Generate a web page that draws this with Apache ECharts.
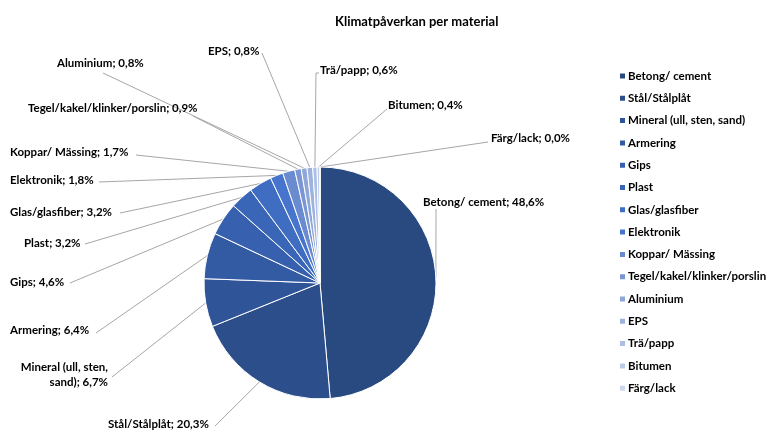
<!DOCTYPE html>
<html>
<head>
<meta charset="utf-8">
<script src="https://cdn.jsdelivr.net/npm/echarts@6/dist/echarts.min.js"></script>
<style>html,body{margin:0;padding:0;background:#fff}#c{width:779px;height:433px}</style>
</head>
<body>
<div id="c"></div>
<script>
const categories = ['Betong/ cement','Stål/Stålplåt','Mineral (ull, sten, sand)','Armering','Gips','Plast','Glas/glasfiber','Elektronik','Koppar/ Mässing','Tegel/kakel/klinker/porslin','Aluminium','EPS','Trä/papp','Bitumen','Färg/lack'];
const values = [48.6, 20.3, 6.7, 6.4, 4.6, 3.2, 3.2, 1.8, 1.7, 0.9, 0.8, 0.8, 0.6, 0.4, 0.0];
const labelNames = ['Betong/ cement','Stål/Stålplåt','Mineral (ull, sten,\nsand)','Armering','Gips','Plast','Glas/glasfiber','Elektronik','Koppar/ Mässing','Tegel/kakel/klinker/porslin','Aluminium','EPS','Trä/papp','Bitumen','Färg/lack'];
const colors = ['#284a80','#2c4f8c','#2f5598','#335ba4','#3761ae','#3a66b8','#3f6dc1','#4774cc','#6a8bcf','#7b97d3','#8ea6d9','#9db3de','#adbfe4','#bccbea','#ccd7ef'];

// label placement (text anchor x, y, align) and leader end points
const labelPos = [[423,202,'left'],[108,424,'left'],[108,375,'right'],[10,330,'left'],[10,282,'left'],[24,243,'left'],[10,212,'left'],[10,180,'left'],[10,152,'left'],[28,108,'left'],[57,63,'left'],[208,51,'left'],[320,70,'left'],[388,105,'left'],[491,138,'left']];
const lineEnds = [[[436,209],[436,209]],[[215,426],[215,426]],[[112,377],[112,377]],[[96,333],[96,333]],[[70,283],[70,283]],[[85,244],[85,244]],[[120,213],[120,213]],[[99,182],[99,182]],[[136,155],[136,155]],[[193,116],[193,116]],[[103,73],[103,73]],[[262,53],[262,53]],[[316,73],[319,73]],[[387,109],[387,109]],[[488,142],[488,142]]];

const fmt = v => v.toFixed(1).replace('.', ',') + '%';
const chart = echarts.init(document.getElementById('c'), null, {renderer:'canvas'});
const FONT = 'Lato';
chart.setOption({
  animation: false,
  color: colors,
  title: {
    text: 'Klimatpåverkan per material',
    left: 330, top: 10,
    textStyle: {fontFamily: FONT, fontSize: 13, fontWeight: 'bold', color: '#000'}
  },
  legend: {
    orient: 'vertical',
    left: 613, top: 64,
    itemWidth: 7, itemHeight: 7,
    itemGap: 8.3,
    icon: 'rect',
    data: categories,
    textStyle: {fontFamily: FONT, fontSize: 11.5, fontWeight: 'bold', color: '#000', lineHeight: 14, padding: [0,0,0,-3]}
  },
  series: [{
    type: 'pie',
    center: [320, 283],
    radius: [0, 116],
    startAngle: 90,
    clockwise: true,
    avoidLabelOverlap: false,
    stillShowZeroSum: true,
    itemStyle: {borderColor: '#fff', borderWidth: 1},
    label: {
      show: true,
      position: 'outside',
      fontFamily: FONT, fontSize: 11.5, fontWeight: 'bold', color: '#000', lineHeight: 15,
      formatter: p => labelNames[p.dataIndex] + '; ' + fmt(p.value)
    },
    labelLine: {show: true, length: 10, length2: 10, smooth: false, lineStyle: {color: '#a6a6a6', width: 1}},
    labelLayout: function (params) {
      const i = params.dataIndex;
      const pos = labelPos[i];
      const start = params.labelLinePoints ? params.labelLinePoints[0] : null;
      const res = {x: pos[0], y: pos[1], align: pos[2], verticalAlign: 'middle'};
      if (start) res.labelLinePoints = [start, lineEnds[i][0], lineEnds[i][1]];
      return res;
    },
    emphasis: {disabled: true},
    data: categories.map((c, i) => ({name: c, value: values[i]}))
  }]
});
</script>
</body>
</html>
